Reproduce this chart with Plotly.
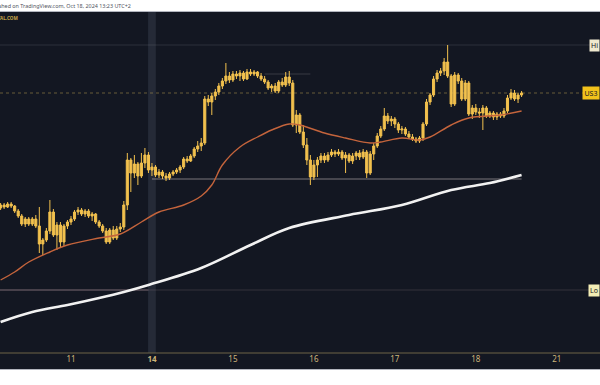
import plotly.graph_objects as go

# ---- data (hourly candles, US30) ----
candle_idx = list(range(149))
open_ = [42660,42675,42665,42680,42670,42645,42620,42580,42605,42580,42605,42570,42480,42500,42545,42640,42525,42575,42490,42570,
         42590,42605,42640,42650,42630,42645,42620,42630,42590,42570,42545,42490,42550,42510,42555,42565,42675,42900,42835,42880,
         42820,42885,42925,42850,42865,42825,42840,42820,42810,42830,42840,42850,42865,42905,42895,42920,42955,42970,42985,43205,
         43190,43220,43240,43270,43295,43320,43300,43330,43320,43335,43305,43340,43330,43340,43320,43305,43290,43260,43270,43245,
         43290,43275,43315,43285,43075,43125,43040,42975,42900,42815,42875,42900,42920,42900,42925,42940,42930,42940,42910,42925,
         42895,42920,42935,42915,42940,42835,42930,42970,43020,43055,43120,43095,43105,43080,43050,43055,43030,43015,43005,42995,
         43010,43080,43190,43225,43305,43335,43345,43390,43320,43180,43325,43295,43205,43285,43130,43160,43140,43135,43160,43120,
         43135,43115,43130,43120,43145,43210,43235,43205,43225]
high = [42685,42685,42690,42690,42675,42655,42630,42615,42615,42615,42625,42665,42510,42560,42700,42655,42590,42590,42580,42600,
        42620,42650,42665,42660,42655,42655,42640,42635,42600,42580,42560,42560,42570,42570,42585,42695,42935,42910,42925,42890,
        42935,42960,42940,42885,42875,42855,42850,42835,42840,42850,42860,42875,42915,42920,42930,42965,42995,43010,43220,43225,
        43235,43255,43285,43310,43385,43340,43345,43345,43350,43345,43355,43355,43350,43345,43335,43320,43300,43280,43285,43300,
        43310,43340,43345,43300,43150,43135,43075,43010,42925,42900,42915,42935,42935,42940,42955,42950,42955,42950,42940,42935,
        42935,42945,42950,42955,42950,42945,42985,43035,43070,43160,43135,43120,43115,43090,43070,43065,43045,43030,43015,43020,
        43090,43205,43235,43320,43350,43360,43410,43475,43330,43340,43335,43310,43300,43295,43175,43180,43160,43175,43170,43145,
        43145,43140,43140,43160,43225,43255,43250,43235,43245]
low = [42650,42655,42660,42660,42635,42610,42570,42565,42570,42570,42560,42435,42425,42490,42530,42515,42450,42460,42470,42555,
       42575,42595,42625,42620,42615,42610,42595,42580,42560,42535,42480,42480,42500,42500,42540,42550,42650,42740,42810,42775,
       42810,42860,42835,42820,42815,42810,42805,42795,42800,42820,42830,42835,42855,42885,42890,42910,42940,42945,42975,43170,
       43125,43200,43225,43255,43280,43285,43290,43305,43295,43295,43300,43320,43320,43310,43295,43280,43250,43240,43235,43235,
       43265,43265,43270,43065,43035,43030,42960,42875,42775,42800,42815,42885,42885,42890,42915,42915,42920,42900,42835,42885,
       42880,42900,42900,42905,42810,42825,42900,42960,43010,43045,43080,43070,43060,43035,43030,43020,43005,42995,42985,42985,
       42995,43070,43175,43215,43290,43320,43325,43310,43165,43170,43280,43195,43195,43120,43105,43125,43110,43050,43110,43110,
       43100,43100,43110,43110,43135,43200,43195,43185,43215]
close = [42675,42665,42680,42670,42645,42620,42580,42605,42580,42605,42570,42480,42500,42545,42640,42525,42575,42490,42570,42590,
         42605,42640,42650,42630,42645,42620,42630,42590,42570,42545,42490,42550,42510,42555,42565,42675,42900,42835,42880,42820,
         42885,42925,42850,42865,42825,42840,42820,42810,42830,42840,42850,42865,42905,42895,42920,42955,42970,42985,43205,43190,
         43220,43240,43270,43295,43320,43300,43330,43320,43335,43305,43340,43330,43340,43320,43305,43290,43260,43270,43245,43290,
         43275,43315,43285,43075,43125,43040,42975,42900,42815,42875,42900,42920,42900,42925,42940,42930,42940,42910,42925,42895,
         42920,42935,42915,42940,42835,42930,42970,43020,43055,43120,43095,43105,43080,43050,43055,43030,43015,43005,42995,43010,
         43080,43190,43225,43305,43335,43345,43390,43320,43180,43325,43295,43205,43285,43130,43160,43140,43135,43160,43120,43135,
         43115,43130,43120,43145,43210,43235,43205,43225,43235]

# moving averages read at sample candles
ma50_idx = [0,4,8,14,19,28,34,40,45,52,57,60,63,68,73,77,82,85,92,98,105,108,114,119,122,128,133,142,148]
ma50_val = [42300,42340,42390,42440,42475,42510,42530,42590,42640,42675,42720,42775,42875,42965,43015,43050,43080,43075,
            43035,43010,42985,42990,43010,43000,43015,43075,43110,43125,43145]
ma200_idx = [0,9,19,28,35,42,57,71,82,99,114,128,139,148]
ma200_val = [42090,42140,42175,42210,42240,42275,42360,42475,42560,42625,42675,42750,42785,42825]

# day ticks
day_idx = [20,43,66,89,112,135,158]
day_labels = ["11","14","15","16","17","18","21"]

# price levels
level_high = 43475
level_last = 43235
level_low = 42250
support_level = 42805
support_start, support_end = 43, 148
low_seg_end = 42
minor_level = 43330
minor_start, minor_end = 75, 88
band_center = 43

BG = "#131722"
CANDLE = "#f2c14e"

fig = go.Figure()
fig.add_trace(go.Candlestick(
    x=candle_idx, open=open_, high=high, low=low, close=close,
    increasing=dict(line=dict(color=CANDLE, width=1), fillcolor=CANDLE),
    decreasing=dict(line=dict(color=CANDLE, width=1), fillcolor=CANDLE),
    whiskerwidth=0, showlegend=False, hoverinfo="skip"))
fig.add_trace(go.Scatter(x=ma50_idx, y=ma50_val, mode="lines",
                         line=dict(color="#c4643c", width=1.4, shape="spline"),
                         showlegend=False, hoverinfo="skip"))
fig.add_trace(go.Scatter(x=ma200_idx, y=ma200_val, mode="lines",
                         line=dict(color="#f2f2f2", width=2.6, shape="spline"),
                         showlegend=False, hoverinfo="skip"))

shapes = []
shapes.append(dict(type="rect", xref="paper", yref="paper", x0=0, x1=1, y0=-16/341, y1=0,
                   fillcolor=BG, line=dict(width=0), layer="below"))
shapes.append(dict(type="rect", xref="x", yref="paper", x0=band_center-1.1, x1=band_center+1.1, y0=0, y1=1,
                   fillcolor="#252a37", line=dict(width=0), layer="below"))
shapes.append(dict(type="line", xref="paper", yref="paper", x0=0, x1=1, y0=1.0015, y1=1.0015,
                   line=dict(color="#b2b5be", width=1)))
shapes.append(dict(type="line", xref="paper", yref="paper", x0=0, x1=1, y0=-16.5/341, y1=-16.5/341,
                   line=dict(color="#b2b5be", width=1)))
shapes.append(dict(type="line", xref="paper", yref="paper", x0=0, x1=1, y0=0, y1=0,
                   line=dict(color="#6e6446", width=1)))
shapes.append(dict(type="line", xref="paper", yref="y", x0=0, x1=1, y0=level_high, y1=level_high,
                   line=dict(color="rgba(140,140,150,0.22)", width=1), layer="below"))
shapes.append(dict(type="line", xref="paper", yref="y", x0=0, x1=1, y0=level_last, y1=level_last,
                   line=dict(color="rgba(190,160,80,0.5)", width=1, dash="dot"), layer="below"))
shapes.append(dict(type="line", xref="paper", yref="y", x0=0, x1=1, y0=level_low, y1=level_low,
                   line=dict(color="rgba(150,130,140,0.25)", width=1), layer="below"))
shapes.append(dict(type="line", xref="x", yref="y", x0=-1, x1=low_seg_end, y0=level_low, y1=level_low,
                   line=dict(color="rgba(170,140,150,0.55)", width=1), layer="below"))
shapes.append(dict(type="line", xref="x", yref="y", x0=support_start, x1=support_end, y0=support_level, y1=support_level,
                   line=dict(color="rgba(190,180,185,0.6)", width=1), layer="below"))
shapes.append(dict(type="line", xref="x", yref="y", x0=minor_start, x1=minor_end, y0=minor_level, y1=minor_level,
                   line=dict(color="rgba(140,140,150,0.3)", width=1), layer="below"))

annotations = [
    dict(xref="paper", yref="paper", x=133/600, y=1+6/341, xanchor="right", yanchor="middle",
         text="Published on TradingView.com, Oct 18, 2024 13:23 UTC+2", showarrow=False,
         font=dict(family="Noto Sans", size=5.4, color="#50535e")),
    dict(xref="paper", yref="paper", x=20/600, y=(353-18)/341, xanchor="right", yanchor="middle",
         text="<b>CAPITAL.COM</b>", showarrow=False, font=dict(family="Noto Sans", size=4.6, color="#c8a848")),
    dict(xref="paper", yref="y", x=1, y=level_high, xanchor="right", yanchor="middle",
         text="Hi", showarrow=False, bgcolor="#efe9cf", borderpad=1,
         font=dict(family="Noto Sans", size=7, color="#131722")),
    dict(xref="paper", yref="y", x=1, y=level_last, xanchor="right", yanchor="middle",
         text="US3", showarrow=False, bgcolor="#f2c21b", borderpad=1.5,
         font=dict(family="Noto Sans", size=7, color="#131722")),
    dict(xref="paper", yref="y", x=1, y=level_low, xanchor="right", yanchor="middle",
         text="Lo", showarrow=False, bgcolor="#f3edb5", borderpad=1,
         font=dict(family="Noto Sans", size=7, color="#131722")),
]

ticktext = [("<b>%s</b>" % t) if t == "14" else t for t in day_labels]

fig.update_layout(
    width=600, height=385,
    margin=dict(l=0, r=0, t=12, b=32),
    paper_bgcolor="white", plot_bgcolor=BG,
    boxgap=0.15,
    shapes=shapes, annotations=annotations,
    xaxis=dict(range=[-0.17, 170.28], tickmode="array", tickvals=day_idx, ticktext=ticktext,
               showgrid=False, zeroline=False, showline=False, ticks="",
               tickfont=dict(family="Noto Sans", size=8, color="#cdb57a"),
               rangeslider=dict(visible=False), fixedrange=True),
    yaxis=dict(range=[41935, 43640], visible=False, showgrid=False, zeroline=False, fixedrange=True),
)

fig.write_html("out.html", config={"displayModeBar": False},
               post_script="document.body.style.margin='0';document.body.style.padding='0';")
